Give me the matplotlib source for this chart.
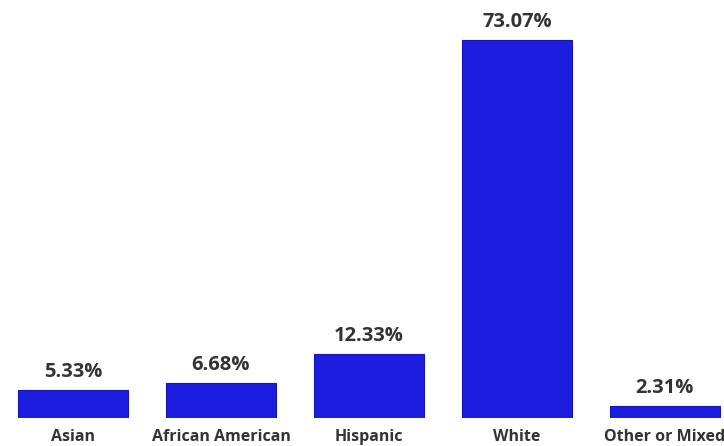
import matplotlib.pyplot as plt

groups = ['Asian', 'African American', 'Hispanic', 'White', 'Other or Mixed']
shares = [5.33, 6.68, 12.33, 73.07, 2.31]

plt.rcParams['font.family'] = ['Open Sans', 'DejaVu Sans']

fig = plt.figure(figsize=(7.24, 4.46), dpi=100)
ax = fig.add_axes([0, 0.063, 1, 0.937])

x = range(len(groups))
bars = ax.bar(x, shares, width=0.74, color='#1d1de0', edgecolor='#1515b8', linewidth=0.8)

# percentage above each bar
for xi, v in zip(x, shares):
    ax.annotate(f'{v:.2f}%', (xi, v), xytext=(0, 6), textcoords='offset points',
                ha='center', va='bottom', fontsize=14.5, fontweight='bold', color='#333333')

ax.set_xlim(-0.493, 4.399)
ax.set_ylim(0, 80.8)
ax.set_xticks(list(x))
ax.set_xticklabels(groups, fontsize=11.5, fontweight='bold', color='#333333')
ax.tick_params(axis='x', length=0, pad=8)
ax.set_yticks([])
for s in ax.spines.values():
    s.set_visible(False)

fig.savefig('out.png', dpi=100)
